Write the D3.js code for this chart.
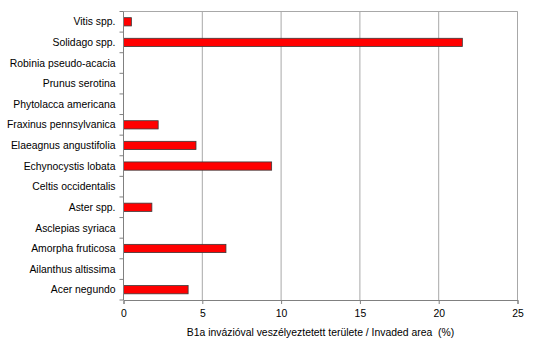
<!DOCTYPE html>
<html>
<head>
<meta charset="utf-8">
<script src="https://cdn.jsdelivr.net/npm/d3@7"></script>
<style>
  html, body { margin: 0; padding: 0; background: #fff; }
  svg { display: block; }
  text { font-family: "Liberation Sans", Arial, sans-serif; fill: #000; white-space: pre; }
</style>
</head>
<body>
<svg id="chart" width="534" height="348"></svg>
<script>
// Species, top to bottom
const species = [
  "Vitis spp.",
  "Solidago spp.",
  "Robinia pseudo-acacia",
  "Prunus serotina",
  "Phytolacca americana",
  "Fraxinus pennsylvanica",
  "Elaeagnus angustifolia",
  "Echynocystis lobata",
  "Celtis occidentalis",
  "Aster spp.",
  "Asclepias syriaca",
  "Amorpha fruticosa",
  "Ailanthus altissima",
  "Acer negundo"
];
// Invaded area (%)
const invaded = [0.5, 21.5, 0, 0, 0, 2.2, 4.6, 9.4, 0, 1.8, 0, 6.5, 0, 4.1];
const xTicks = [0, 5, 10, 15, 20, 25];
const xTitle = "B1a invázióval veszélyeztetett területe / Invaded area  (%)";

const fontSize = 10.4;
const margin = { top: 11.5, right: 16.5, bottom: 48, left: 123.5 };
const W = 534, H = 348;
const iw = W - margin.left - margin.right;
const ih = H - margin.top - margin.bottom;

const svg = d3.select("#chart");
const g = svg.append("g").attr("transform", `translate(${margin.left},${margin.top})`);

const x = d3.scaleLinear().domain([0, 25]).range([0, iw]);
const y = d3.scaleBand().domain(species).range([0, ih]).paddingInner(0.6).paddingOuter(0.3);
const yb = d3.scaleBand().domain(species).range([0, ih]);

// vertical gridlines
g.append("g").selectAll("line").data(xTicks.slice(1)).join("line")
  .attr("x1", d => x(d)).attr("x2", d => x(d))
  .attr("y1", 0).attr("y2", ih)
  .attr("stroke", "#a8a8a8").attr("stroke-width", 1);

// plot frame (top and right)
g.append("path")
  .attr("d", `M0,0H${iw}V${ih}`)
  .attr("fill", "none").attr("stroke", "#a8a8a8").attr("stroke-width", 1);

// bars
g.append("g").selectAll("rect").data(species.map((s, i) => ({ s, v: invaded[i] })).filter(d => d.v > 0))
  .join("rect")
  .attr("x", x(0))
  .attr("y", d => y(d.s))
  .attr("width", d => x(d.v) - x(0))
  .attr("height", y.bandwidth())
  .attr("fill", "#ff0000")
  .attr("stroke", "#3a3a3a")
  .attr("stroke-width", 0.8);

// x axis
const xAxis = g.append("g").attr("transform", `translate(0,${ih})`)
  .call(d3.axisBottom(x).tickValues(xTicks).tickSize(4).tickPadding(6).tickFormat(d3.format("d")));
xAxis.select(".domain").attr("stroke", "#808080");
xAxis.selectAll(".tick line").attr("stroke", "#808080");
xAxis.selectAll("text").attr("font-size", fontSize).attr("font-family", "Liberation Sans, Arial, sans-serif");

// y axis: labels centred on bands, ticks on band boundaries
const yAxisG = g.append("g");
yAxisG.append("line").attr("x1", 0).attr("x2", 0).attr("y1", 0).attr("y2", ih).attr("stroke", "#808080");
yAxisG.selectAll("line.tk").data(d3.range(species.length + 1)).join("line").attr("class", "tk")
  .attr("x1", -4).attr("x2", 0)
  .attr("y1", i => i * yb.step()).attr("y2", i => i * yb.step())
  .attr("stroke", "#808080");
yAxisG.selectAll("text").data(species).join("text")
  .attr("x", -8)
  .attr("y", d => yb(d) + yb.bandwidth() / 2)
  .attr("dy", "0.35em")
  .attr("text-anchor", "end")
  .attr("font-size", fontSize)
  .text(d => d);

// x axis title
svg.append("text")
  .attr("x", margin.left + iw / 2)
  .attr("y", 336)
  .attr("text-anchor", "middle")
  .attr("font-size", fontSize)
  .text(xTitle);
</script>
</body>
</html>
